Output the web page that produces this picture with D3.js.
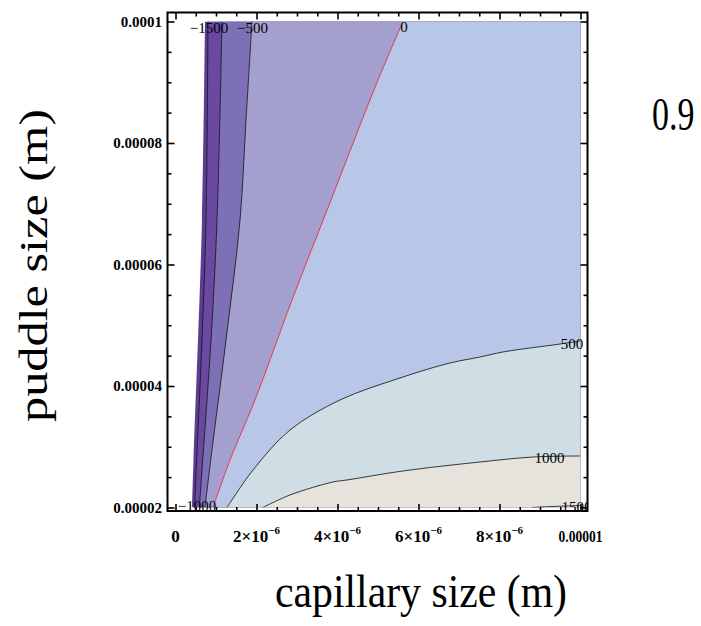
<!DOCTYPE html>
<html><head><meta charset="utf-8">
<script src="https://cdn.jsdelivr.net/npm/d3@7"></script>
<style>body{margin:0;background:#fff;} svg{display:block;}</style>
</head><body>
<svg id="chart" width="701" height="626"></svg>
<script>
// ---- data (metres) ----
const levels = [-1500, -1000, -500, 0, 500, 1000, 1500];
const xTicks = [0, 2e-6, 4e-6, 6e-6, 8e-6, 1e-5];
const xTickBase = ["0", "2×10", "4×10", "6×10", "8×10", "0.00001"];
const xTickExp = ["", "−6", "−6", "−6", "−6", ""];
const yTicks = [2e-5, 4e-5, 6e-5, 8e-5, 1e-4];
const yTickLabels = ["0.00002", "0.00004", "0.00006", "0.00008", "0.0001"];
const panelLabel = "0.9";

// left edge of the region where the function is defined (top -> bottom)
const definedEdge = [[0.728e-6, 1e-4], [0.654e-6, 6.733e-5], [0.444e-6, 2.782e-5], [0.407e-6, 2e-5]];
// contours running top -> bottom
const contourM1500 = [[0.802e-6, 1e-4], [0.753e-6, 6.733e-5], [0.654e-6, 4.757e-5], [0.523e-6, 2.782e-5], [0.469e-6, 2e-5]];
const contourM1000 = [[1.148e-6, 1e-4], [1.025e-6, 6.733e-5], [0.877e-6, 4.757e-5], [0.672e-6, 2.782e-5], [0.588e-6, 2e-5]];
const contourM500 = [[1.889e-6, 1e-4], [1.741e-6, 8.379e-5], [1.593e-6, 6.733e-5], [1.247e-6, 4.757e-5], [0.869e-6, 2.782e-5], [0.728e-6, 2e-5]];
const contour0 = [[5.617e-6, 1e-4], [5.0e-6, 9.037e-5], [3.840e-6, 7.062e-5], [2.877e-6, 5.416e-5], [1.963e-6, 3.770e-5], [1.346e-6, 2.782e-5], [0.926e-6, 2e-5]];
// contours running bottom -> right edge
const contour500 = [[1.272e-6, 2e-5], [1.914e-6, 2.617e-5], [2.827e-6, 3.276e-5], [4.062e-6, 3.770e-5], [5.543e-6, 4.132e-5], [6.778e-6, 4.379e-5], [7.519e-6, 4.477e-5], [8.086e-6, 4.560e-5], [9.494e-6, 4.691e-5], [1e-5, 4.741e-5]];
const contour1000 = [[2.160e-6, 2e-5], [2.827e-6, 2.206e-5], [3.889e-6, 2.420e-5], [4.235e-6, 2.453e-5], [5.617e-6, 2.601e-5], [7.519e-6, 2.749e-5], [8.827e-6, 2.831e-5], [1e-5, 2.848e-5]];
const contour1500 = [[8.802e-6, 2e-5], [9.247e-6, 2.015e-5], [1e-5, 2.033e-5]];

const labelLevels = [-1500, -500, 0, 500, 1000, 1500, -1000];
const labelX = [0.827e-6, 1.901e-6, 5.642e-6, 9.790e-6, 9.235e-6, 9.901e-6, 0.531e-6];
const labelY = [9.893e-5, 9.893e-5, 9.909e-5, 4.691e-5, 2.815e-5, 2.008e-5, 2.025e-5];

const bandColors = ["#5d3c96", "#6b49a0", "#7d70b7", "#a3a0cf", "#b8c7e7", "#cfdde4", "#e5e3dc", "#ece9e2"];

// ---- drawing ----
const svg = d3.select("#chart");
const x = d3.scaleLinear([0, 1e-5], [175.5, 580.5]);
const y = d3.scaleLinear([2e-5, 1e-4], [507.5, 21.5]);
const frame = {l: 167.5, r: 587.5, t: 12.5, b: 511};

const defs = svg.append("defs");
defs.append("clipPath").attr("id", "plotClip").append("rect")
  .attr("x", x(0)).attr("y", y(1e-4)).attr("width", x(1e-5) - x(0)).attr("height", y(2e-5) - y(1e-4));
defs.append("clipPath").attr("id", "frameClip").append("rect")
  .attr("x", frame.l).attr("y", frame.t).attr("width", frame.r - frame.l).attr("height", frame.b - frame.t + 6);

const curve = d3.line().x(d => x(d[0])).y(d => y(d[1])).curve(d3.curveCatmullRom.alpha(0.5));

const plot = svg.append("g").attr("clip-path", "url(#plotClip)");
const BR = [1e-5, 2e-5], TR = [1e-5, 1e-4];

const rightRegions = [definedEdge, contourM1500, contourM1000, contourM500, contour0];
rightRegions.forEach((c, i) => {
  plot.append("path").attr("d", curve(c) + "L" + x(BR[0]) + "," + y(BR[1]) + "L" + x(TR[0]) + "," + y(TR[1]) + "Z")
    .attr("fill", bandColors[i]);
});
const lowerRegions = [contour500, contour1000, contour1500];
lowerRegions.forEach((c, i) => {
  plot.append("path").attr("d", curve(c) + "L" + x(BR[0]) + "," + y(BR[1]) + "Z")
    .attr("fill", bandColors[5 + i]);
});

const lines = [contourM1500, contourM1000, contourM500, contour0, contour500, contour1000, contour1500];
lines.forEach((c, i) => {
  plot.append("path").attr("d", curve(c)).attr("fill", "none")
    .attr("stroke", levels[i] === 0 ? "#e23a46" : "#1a1a1a")
    .attr("stroke-width", 1)
    .attr("stroke-opacity", levels[i] === 0 ? 1 : 0.85);
});

// contour labels
const lab = svg.append("g").attr("clip-path", "url(#frameClip)")
  .attr("font-family", "Liberation Serif, serif").attr("font-size", 15).attr("fill", "#000");
labelLevels.forEach((v, i) => {
  lab.append("text").attr("x", x(labelX[i])).attr("y", y(labelY[i]))
    .attr("text-anchor", "middle").attr("dominant-baseline", "central")
    .text(d3.format("d")(v).replace("-", "−"));
});

// frame
svg.append("rect").attr("x", frame.l).attr("y", frame.t)
  .attr("width", frame.r - frame.l).attr("height", frame.b - frame.t)
  .attr("fill", "none").attr("stroke", "#000").attr("stroke-width", 2);

// ticks via d3 axes
const xMinor = d3.range(0, 21).map(k => k * 5e-7).filter(v => !xTicks.some(t => Math.abs(t - v) < 1e-12));
const yMinor = d3.range(4, 21).map(k => k * 5e-6).filter(v => !yTicks.some(t => Math.abs(t - v) < 1e-12));
function addAxis(axisFn, scale, vals, size, transform) {
  const g = svg.append("g").attr("transform", transform)
    .call(axisFn(scale).tickValues(vals).tickSize(-size).tickFormat(""));
  g.select(".domain").remove();
  g.selectAll(".tick line").attr("stroke", "#000").attr("stroke-width", 1.6);
}
addAxis(d3.axisBottom, x, xTicks, 7, `translate(0,${frame.b})`);
addAxis(d3.axisBottom, x, xMinor, 4, `translate(0,${frame.b})`);
addAxis(d3.axisTop, x, xTicks, 7, `translate(0,${frame.t})`);
addAxis(d3.axisTop, x, xMinor, 4, `translate(0,${frame.t})`);
addAxis(d3.axisLeft, y, yTicks, 7, `translate(${frame.l},0)`);
addAxis(d3.axisLeft, y, yMinor, 4, `translate(${frame.l},0)`);
addAxis(d3.axisRight, y, yTicks, 7, `translate(${frame.r},0)`);
addAxis(d3.axisRight, y, yMinor, 4, `translate(${frame.r},0)`);

// tick labels
const tl = svg.append("g").attr("font-family", "Liberation Serif, serif").attr("font-weight", "bold").attr("fill", "#000");
yTicks.forEach((v, i) => {
  tl.append("text").attr("x", 162).attr("y", y(v)).attr("text-anchor", "end")
    .attr("dominant-baseline", "central").attr("font-size", 15).text(yTickLabels[i]);
});
xTicks.forEach((v, i) => {
  const t = tl.append("text").attr("x", x(v)).attr("y", 542).attr("text-anchor", "middle").attr("font-size", 17);
  if (xTickExp[i]) {
    t.append("tspan").text(xTickBase[i]);
    t.append("tspan").attr("font-size", 11).attr("dy", -8).text(xTickExp[i]);
  } else {
    t.text(xTickBase[i]);
    if (xTickBase[i].length > 3) t.attr("textLength", 44).attr("lengthAdjust", "spacingAndGlyphs");
  }
});

// titles
svg.append("text").attr("x", 275).attr("y", 607)
  .attr("font-family", "Liberation Serif, serif").attr("font-size", 47)
  .attr("textLength", 292).attr("lengthAdjust", "spacingAndGlyphs")
  .text("capillary size (m)");
svg.append("text").attr("transform", "translate(47,422) rotate(-90)")
  .attr("font-family", "Liberation Serif, serif").attr("font-size", 41)
  .attr("textLength", 313).attr("lengthAdjust", "spacingAndGlyphs")
  .text("puddle size (m)");
svg.append("text").attr("transform", "translate(652,130) scale(1,1.35)")
  .attr("font-family", "Liberation Serif, serif").attr("font-size", 34)
  .text(panelLabel);
</script>
</body></html>
